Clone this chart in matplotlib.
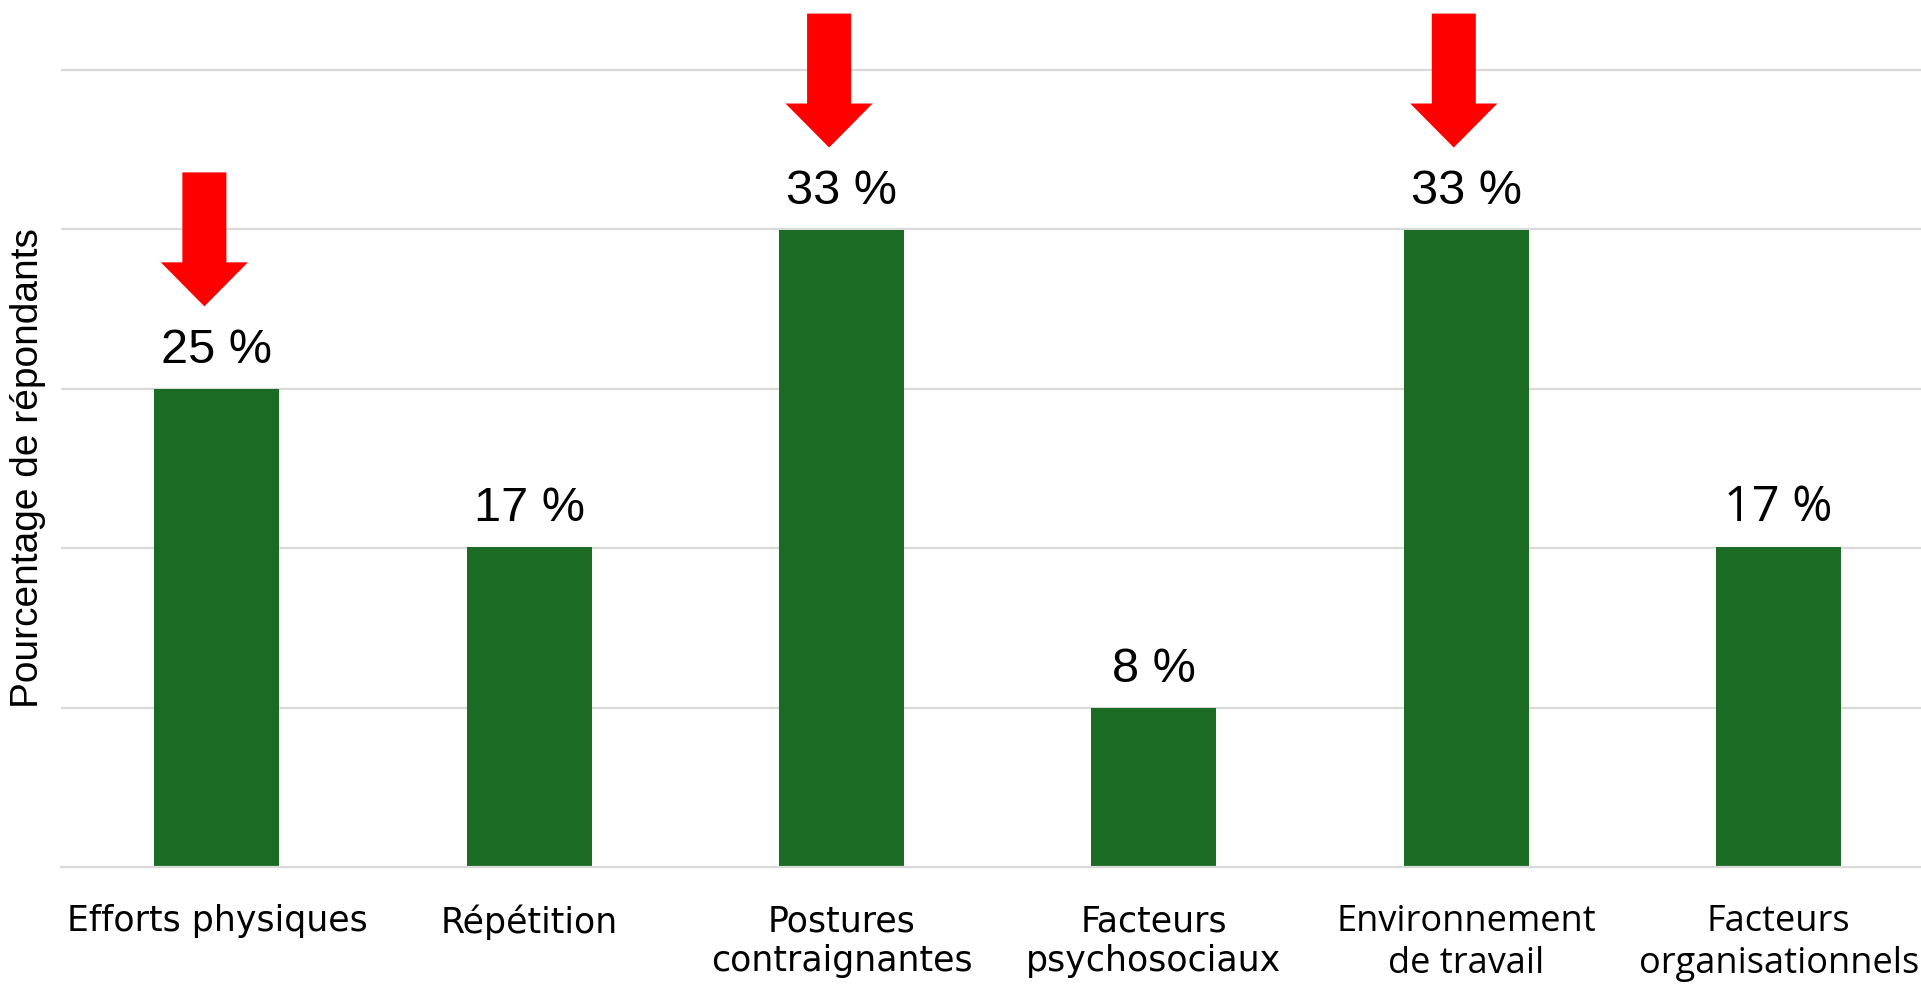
import numpy as np
import matplotlib.pyplot as plt

# Survey results: share of respondents per risk factor
categories = [
    "Efforts physiques",
    "Répétition",
    "Postures\ncontraignantes",
    "Facteurs\npsychosociaux",
    "Environnement\nde travail",
    "Facteurs\norganisationnels",
]
percentages = [25, 16.7, 33.3, 8.3, 33.3, 16.7]
highlighted = [0, 2, 4]  # bars pointed at with a red arrow

# fonts differ a bit between labels in the original layout
tick_fonts = ["Liberation Sans Narrow"] * 4 + ["Open Sans"] * 2
tick_sizes = [25] * 4 + [26] * 2
value_fonts = ["Liberation Sans"] * 5 + ["Open Sans"]

BAR_COLOR = "#1B6B25"
GRID_COLOR = "#D9D9D9"
ARROW_COLOR = "#FF0000"

fig = plt.figure(figsize=(19.21, 9.88), dpi=100)
ax = fig.add_axes([0.0316, 0.1225, 0.9756, 0.8715])

x = np.arange(len(categories))
bars = ax.bar(x, percentages, width=0.4, color=BAR_COLOR, zorder=2)

ax.set_xlim(-0.5, len(categories) - 0.5)
ax.set_ylim(0, 45)
ax.set_yticks(np.arange(1, 6) * 100 / 12)
ax.yaxis.grid(True, color=GRID_COLOR, linewidth=1.6)
ax.set_axisbelow(True)
ax.tick_params(axis="y", length=0, labelleft=False)
ax.tick_params(axis="x", length=0, pad=27)

for side in ["top", "right", "left"]:
    ax.spines[side].set_visible(False)
ax.spines["bottom"].set_color(GRID_COLOR)
ax.spines["bottom"].set_linewidth(1.6)

ax.set_xticks(x)
ax.set_xticklabels(categories, linespacing=1.2)
for lbl, fam, size in zip(ax.get_xticklabels(), tick_fonts, tick_sizes):
    lbl.set_family(fam)
    lbl.set_fontsize(size)

ax.set_ylabel("Pourcentage de répondants", fontsize=28, family="Liberation Sans")
ax.yaxis.set_label_coords(-0.008, 0.463)

# value labels above each bar
for xi, val, fam in zip(x, percentages, value_fonts):
    ax.annotate(f"{val:.0f} %", (xi, val), xytext=(0, 18.7),
                textcoords="offset points", ha="center", va="baseline",
                fontsize=35, family=fam)

# red arrows over the highlighted bars
for i in highlighted:
    top = percentages[i]
    ax.arrow(x[i] - 0.04, top + 11.3, 0, -7.0, width=0.141, head_width=0.279,
             head_length=2.3, length_includes_head=True, color=ARROW_COLOR,
             linewidth=0, zorder=3, clip_on=False)

fig.savefig("out.png", dpi=100)
